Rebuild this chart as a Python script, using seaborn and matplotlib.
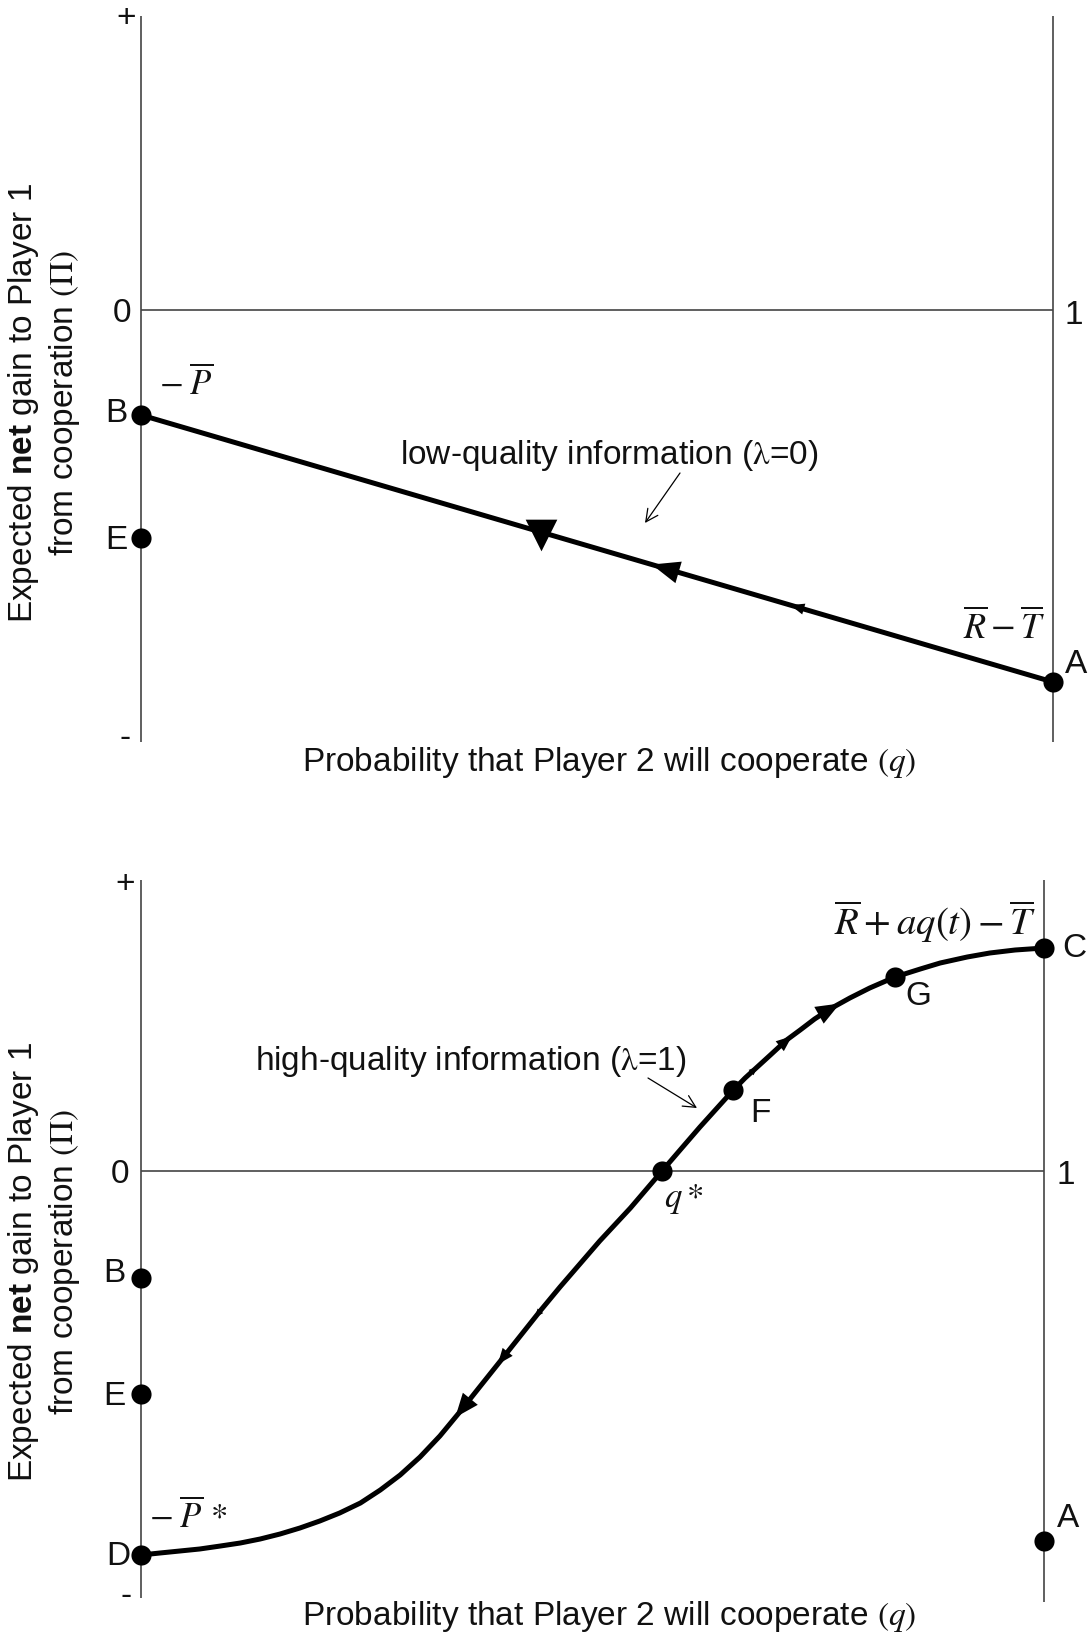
import numpy as np
import matplotlib
matplotlib.use("Agg")
import matplotlib.pyplot as plt
from matplotlib.patches import ArrowStyle, FancyArrowPatch
import seaborn as sns

# ---------------- data (conceptual units; 0 = zero-gain line) ----------------
# Top panel: low-quality information (lambda = 0), straight line B -> A
top_q = [0.0, 1.0]
top_pi = [-1.05, -3.72]
top_pt_labels = ["B", "E", "A"]
top_pt_q = [0.0, 0.0, 1.0]
top_pt_pi = [-1.05, -2.28, -3.72]
top_arrow_q = [0.560, 0.712]           # arrowheads pointing toward B
top_arrow_size = [28, 14]               # px
top_big_arrow_q = [0.4386]

# Bottom panel: high-quality information (lambda = 1), S-shaped curve D -> C
bot_q = [0.000, 0.021, 0.043, 0.065, 0.088, 0.110, 0.132, 0.154, 0.176, 0.198,
         0.220, 0.243, 0.265, 0.287, 0.309, 0.331, 0.353, 0.375, 0.398, 0.420,
         0.442, 0.464, 0.486, 0.508, 0.542, 0.577, 0.597, 0.619, 0.637, 0.656,
         0.669, 0.680, 0.697, 0.715, 0.730, 0.746, 0.763, 0.785, 0.807, 0.835,
         0.863, 0.885, 0.915, 0.940, 0.968, 1.000]
bot_pi = [-3.84, -3.82, -3.80, -3.78, -3.75, -3.72, -3.68, -3.63, -3.57, -3.50,
          -3.42, -3.32, -3.19, -3.04, -2.86, -2.65, -2.41, -2.16, -1.90, -1.65,
          -1.40, -1.16, -0.93, -0.70, -0.37, 0.00, 0.21, 0.44, 0.62, 0.81,
          0.93, 1.02, 1.16, 1.31, 1.41, 1.52, 1.62, 1.73, 1.83, 1.94,
          2.02, 2.08, 2.14, 2.18, 2.21, 2.23]
bot_pt_labels = ["B", "E", "D", "A", "C", "G", "F", "q*"]
bot_pt_q = [0.0, 0.0, 0.0, 1.0, 1.0, 0.835, 0.656, 0.577]
bot_pt_pi = [-1.07, -2.23, -3.84, -3.70, 2.23, 1.94, 0.81, 0.0]
bot_up_arrow_q = [0.683, 0.721, 0.774]     # toward C
bot_up_arrow_size = [9, 16, 24]
bot_down_arrow_q = [0.436, 0.395, 0.348]   # toward D
bot_down_arrow_size = [9, 16, 24]

# ---------------- style ----------------
sns.set_theme(style="white")
plt.rcParams["font.family"] = ["Liberation Sans", "DejaVu Sans"]
plt.rcParams["mathtext.rm"] = "Liberation Sans"
plt.rcParams["mathtext.it"] = "Liberation Sans:italic"
plt.rcParams["mathtext.bf"] = "Liberation Sans:bold"

W, H = 1088, 1638
fig = plt.figure(figsize=(W / 100, H / 100), dpi=100)
FS = 24
MFS = 25
AXC = "#444444"
TXT = "#111111"


def ftext(x, y, s, **kw):
    kw.setdefault("fontsize", FS)
    kw.setdefault("color", TXT)
    return fig.text(x / W, 1 - y / H, s, **kw)


def curve_arrow(ax, qs, ps, q_tip, direction, size_px):
    y_tip = np.interp(q_tip, qs, ps)
    q_tail = q_tip - direction * 0.012
    y_tail = np.interp(q_tail, qs, ps)
    ax.annotate("", xy=(q_tip, y_tip), xytext=(q_tail, y_tail),
                arrowprops=dict(arrowstyle=ArrowStyle("-|>", head_length=1.0, head_width=0.4),
                                mutation_scale=size_px / 1.389, color="black", lw=0,
                                shrinkA=0, shrinkB=0), zorder=6)


def label_arrow(x0, y0, x1, y1):
    fig.add_artist(FancyArrowPatch(
        (x0, H - y0), (x1, H - y1), transform=None,
        arrowstyle="->", mutation_scale=22, lw=0.9, color="black",
        shrinkA=0, shrinkB=0))


# ---------------- top panel ----------------
ax1 = fig.add_axes([0, 1 - 800 / H, 1, 800 / H])
ax1.set_xlim(-141 / 912, 947 / 912)
ax1.set_ylim(-4.90, 3.10)
ax1.axis("off")
ax1.vlines([0, 1], -4.32, 2.94, color=AXC, lw=1.2)
ax1.hlines(0, 0, 1, color=AXC, lw=1.2)
sns.lineplot(x=top_q, y=top_pi, ax=ax1, color="black", lw=3.6, estimator=None)
sns.scatterplot(x=top_pt_q, y=top_pt_pi, ax=ax1, color="black", s=210,
                linewidth=0, zorder=7)
for q, s in zip(top_arrow_q, top_arrow_size):
    curve_arrow(ax1, top_q, top_pi, q, -1, s)
sns.scatterplot(x=top_big_arrow_q, y=np.interp(top_big_arrow_q, top_q, top_pi) - 0.03,
                ax=ax1, color="black", marker="v", s=520, linewidth=0, zorder=6)

# ---------------- bottom panel ----------------
ax2 = fig.add_axes([0, 0, 1, 838 / H])
ax2.set_xlim(-141 / 903, 947 / 903)
ax2.set_ylim(-4.67, 3.71)
ax2.axis("off")
ax2.vlines([0], -4.27, 2.91, color=AXC, lw=1.2)
ax2.vlines([1], -4.31, 2.91, color=AXC, lw=1.2)
ax2.hlines(0, 0, 1, color=AXC, lw=1.2)
sns.lineplot(x=bot_q, y=bot_pi, ax=ax2, color="black", lw=3.6, estimator=None)
sns.scatterplot(x=bot_pt_q, y=bot_pt_pi, ax=ax2, color="black", s=210,
                linewidth=0, zorder=7)
for q, s in zip(bot_up_arrow_q, bot_up_arrow_size):
    curve_arrow(ax2, bot_q, bot_pi, q, 1, s)
for q, s in zip(bot_down_arrow_q, bot_down_arrow_size):
    curve_arrow(ax2, bot_q, bot_pi, q, -1, s)

# ---------------- text: top panel ----------------
ftext(126, 27, "+", ha="center", va="baseline")
ftext(122, 322, "0", ha="center", va="baseline")
ftext(1074, 324, "1", ha="center", va="baseline")
ftext(125, 747, "-", ha="center", va="baseline")
ftext(127, 422, "B", ha="right", va="baseline")
ftext(127, 549, "E", ha="right", va="baseline")
ftext(1065, 673, "A", ha="left", va="baseline")
ftext(186, 384, r"$-\;\overline{P}$", ha="center", va="center", fontsize=MFS,
      math_fontfamily="stix")
ftext(1004, 628, r"$\overline{R}-\overline{T}$", ha="center", va="center", fontsize=26,
      math_fontfamily="stix")
ftext(609, 464, r"low-quality information ($\mathrm{\lambda}$=0)", ha="center",
      va="baseline", math_fontfamily="stix")
label_arrow(680, 473, 645, 523)
ftext(609, 771, r"Probability that Player 2 will cooperate $(q)$", ha="center", va="baseline",
      math_fontfamily="stix")
ftext(32, 403, r"Expected $\mathbf{net}$ gain to Player 1", ha="center", va="baseline",
      rotation=90, rotation_mode="anchor", math_fontfamily="custom")
ftext(73, 403, r"from cooperation $(\Pi)$", ha="center", va="baseline",
      rotation=90, rotation_mode="anchor", math_fontfamily="stix")

# ---------------- text: bottom panel ----------------
ftext(125, 893, "+", ha="center", va="baseline")
ftext(120, 1183, "0", ha="center", va="baseline")
ftext(1066, 1184, "1", ha="center", va="baseline")
ftext(126, 1605, "-", ha="center", va="baseline")
ftext(125, 1282, "B", ha="right", va="baseline")
ftext(125, 1405, "E", ha="right", va="baseline")
ftext(130, 1565, "D", ha="right", va="baseline")
ftext(1057, 1527, "A", ha="left", va="baseline")
ftext(1062, 957, "C", ha="left", va="baseline")
ftext(905, 1005, "G", ha="left", va="baseline")
ftext(750, 1122, "F", ha="left", va="baseline")
ftext(684, 1199, r"$q*$", ha="center", va="center", fontsize=MFS, math_fontfamily="stix")
ftext(188, 1517, r"$-\;\overline{P}\,*$", ha="center", va="center", fontsize=MFS,
      math_fontfamily="stix")
ftext(935, 922, r"$\overline{R}+aq(t)-\overline{T}$", ha="center", va="center", fontsize=28,
      math_fontfamily="stix")
ftext(471, 1070, r"high-quality information ($\mathrm{\lambda}$=1)", ha="center",
      va="baseline", math_fontfamily="stix")
label_arrow(648, 1078, 697, 1108)
ftext(609, 1625, r"Probability that Player 2 will cooperate $(q)$", ha="center", va="baseline",
      math_fontfamily="stix")
ftext(32, 1262, r"Expected $\mathbf{net}$ gain to Player 1", ha="center", va="baseline",
      rotation=90, rotation_mode="anchor", math_fontfamily="custom")
ftext(73, 1262, r"from cooperation $(\Pi)$", ha="center", va="baseline",
      rotation=90, rotation_mode="anchor", math_fontfamily="stix")

fig.savefig("out.png", dpi=100, facecolor="white")
